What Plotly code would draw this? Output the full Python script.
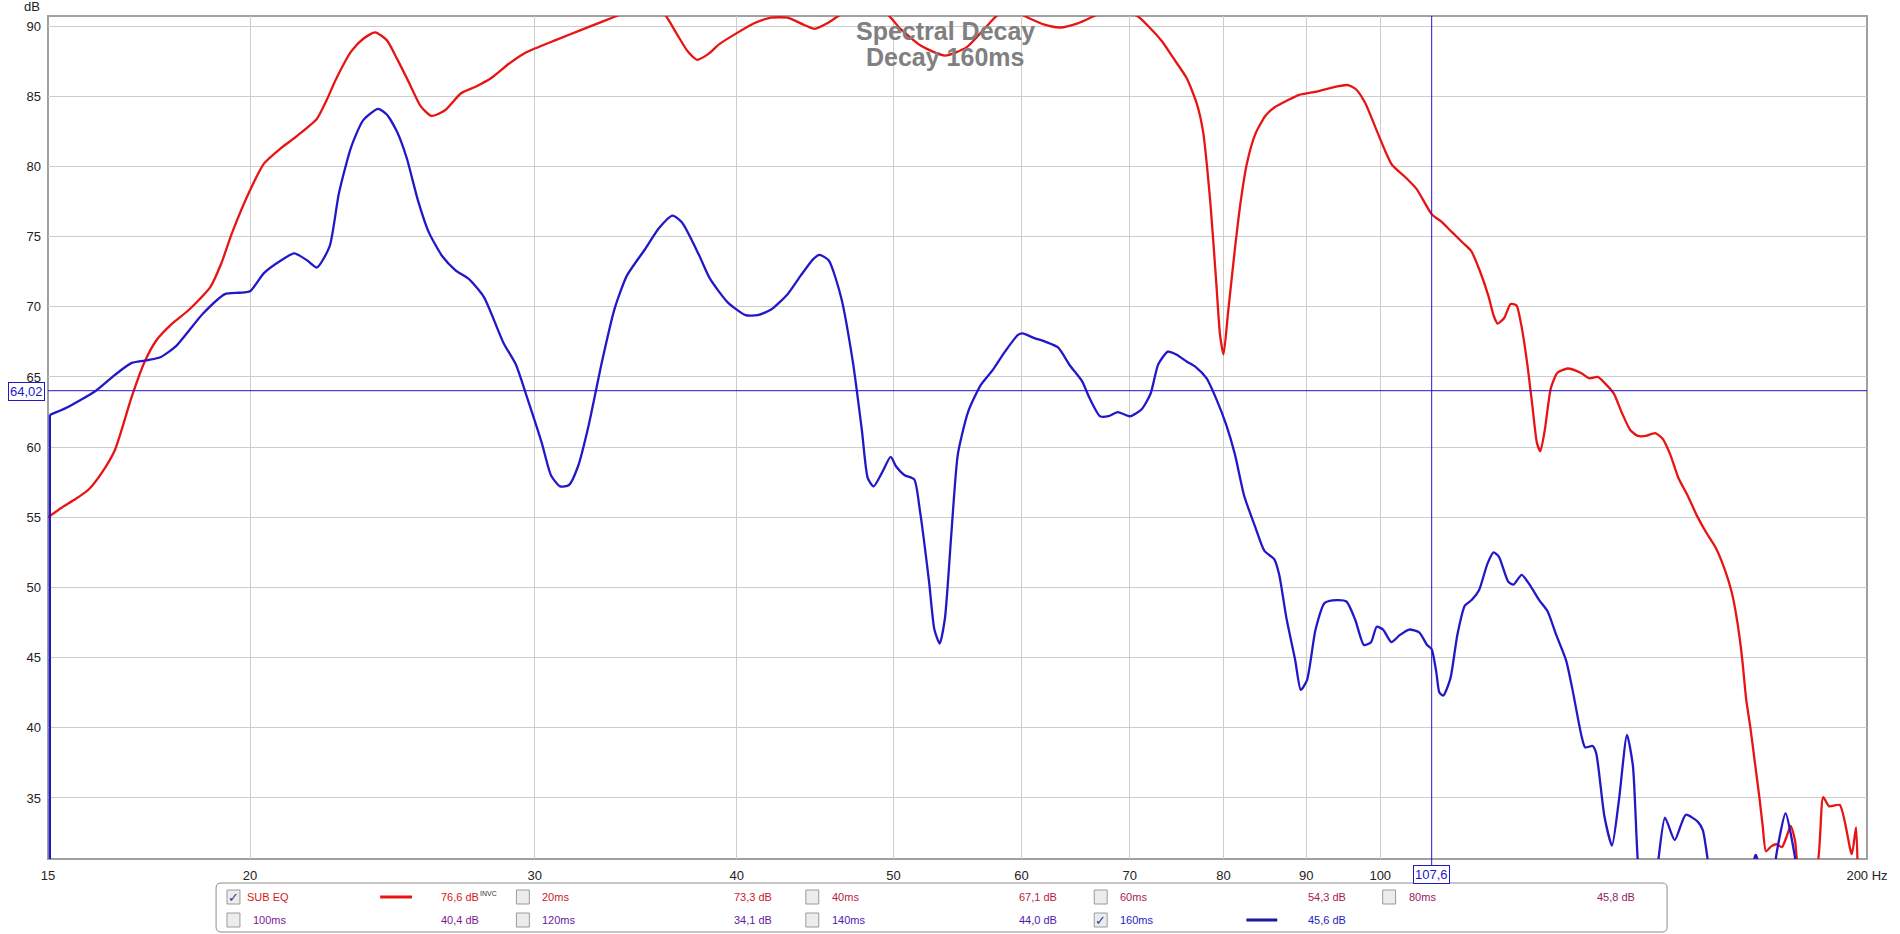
import math
import plotly.graph_objects as go

# ---------------- data ----------------
red_freq = [15.0, 15.3, 15.6, 15.9, 16.2, 16.5, 16.9, 17.2, 17.5, 17.9, 18.3, 18.6, 18.9, 19.2, 19.5,
            20.0, 20.4, 20.9, 21.4, 22.0, 22.3, 22.6, 23.1, 23.5, 23.9, 24.3, 24.65, 25.1, 25.5, 25.9,
            26.4, 27.0, 27.6, 28.2, 28.9, 29.5, 30.0, 30.9, 32.0, 33.0, 34.0, 35.0, 36.0, 36.7, 37.3,
            37.8, 38.4, 39.0, 40.0, 41.0, 42.0, 43.0, 44.0, 44.7, 45.5, 46.5, 48.0, 49.6, 50.5, 52.0,
            53.8, 55.5, 57.0, 58.0, 59.0, 60.3, 62.0, 63.4, 65.0, 66.5, 68.5, 70.8, 72.0, 73.3, 74.4,
            75.9, 77.0, 77.7, 78.5, 79.2, 79.6, 80.0, 80.5, 81.3, 82.0, 82.7, 83.7, 84.9, 86.0, 87.6,
            89.1, 91.0, 92.5, 94.1, 95.5, 96.6, 97.9, 99.3, 100.8, 101.7, 103.5, 105.3, 107.6, 109.0,
            110.8, 112.4, 113.8, 115.2, 116.7, 117.5, 118.2, 119.3, 120.4, 121.4, 122.2, 123.3, 124.2,
            125.0, 125.6, 126.4, 127.5, 128.7, 130.6, 133.0, 134.7, 136.3, 138.1, 139.5, 141.0, 142.8,
            144.3, 146.0, 147.9, 149.5, 151.1, 152.9, 155.0, 157.0, 159.1, 161.3, 163.3, 165.0, 166.3,
            167.4, 168.4, 169.4, 170.5, 171.6, 172.4, 173.2, 174.5, 175.8, 177.2, 178.3, 179.4, 180.5,
            181.8, 185.8, 187.9, 189.5, 192.4, 195.7, 196.9, 197.4]
red_db = [55.0, 55.7, 56.3, 57.0, 58.2, 59.8, 63.6, 66.0, 67.6, 68.8, 69.7, 70.5, 71.4, 73.1, 75.3,
          78.3, 80.2, 81.3, 82.2, 83.4, 84.7, 86.2, 88.2, 89.1, 89.55, 89.0, 87.7, 85.9, 84.3, 83.6,
          84.0, 85.2, 85.7, 86.3, 87.3, 88.0, 88.4, 89.0, 89.7, 90.3, 90.9, 91.5, 91.0, 89.5, 88.2,
          87.6, 88.0, 88.7, 89.5, 90.2, 90.6, 90.6, 90.1, 89.8, 90.2, 90.9, 91.6, 90.8, 89.8, 88.6,
          87.9, 88.5, 89.9, 90.8, 91.2, 90.7, 90.1, 89.9, 90.2, 90.7, 91.3, 90.7, 89.9, 88.9, 87.8,
          86.3, 84.5, 82.5, 77.5, 71.5, 68.0, 66.6, 69.5, 74.1, 77.6, 80.2, 82.3, 83.6, 84.2, 84.7,
          85.1, 85.3, 85.5, 85.7, 85.8, 85.5, 84.5, 82.8, 81.0, 80.1, 79.3, 78.4, 76.6, 76.1,
          75.3, 74.6, 74.0, 72.6, 70.7, 69.4, 68.8, 69.2, 70.2, 70.1, 68.8, 65.9, 62.9,
          60.3, 59.7, 61.2, 64.2, 65.3, 65.6, 65.3, 64.9, 65.0, 64.4, 63.8, 62.5, 61.2,
          60.8, 60.8, 61.0, 60.6, 59.5, 57.8, 56.5, 55.1, 53.9, 52.8, 51.3, 49.6, 47.5,
          45.0, 42.0, 40.0, 37.5, 35.0, 33.0, 31.2, 31.55, 31.7, 31.5, 32.2, 33.0, 32.0,
          29.5, 29.5, 35.05, 34.4, 34.5, 31.0, 32.9, 29.5]

blue_freq = [15.04, 15.04, 15.4, 16.05, 16.5, 16.9, 17.3, 17.6, 18.0, 18.7, 19.3, 19.7, 20.0, 20.4, 20.9,
             21.3, 21.7, 22.0, 22.4, 22.7, 23.1, 23.5, 24.0, 24.3, 24.65, 25.0, 25.4, 25.8, 26.3, 26.8,
             27.3, 27.9, 28.7, 29.2, 29.7, 30.3, 30.7, 31.1, 31.5, 31.9, 32.4, 33.0, 33.6, 34.2, 35.1,
             35.8, 36.5, 37.0, 37.9, 38.5, 39.5, 40.5, 41.2, 42.0, 43.0, 43.8, 44.6, 45.0, 45.6, 46.4,
             47.2, 47.8, 48.2, 48.6, 49.2, 49.8, 50.2, 50.8, 51.5, 51.9, 52.6, 53.0, 53.4, 53.8, 54.3,
             54.8, 55.6, 56.6, 57.6, 58.6, 59.7, 60.1, 61.0, 62.1, 63.2, 64.3, 65.4, 66.1, 67.1, 67.9,
             68.8, 70.0, 71.2, 72.1, 72.9, 73.9, 74.8, 75.9, 76.9, 78.1, 79.2, 80.3, 81.3, 82.4, 83.7,
             84.8, 86.0, 86.6, 87.5, 88.6, 89.3, 90.1, 91.2, 92.4, 94.0, 95.3, 96.5, 97.7, 98.7, 99.5,
             100.4, 101.6, 102.8, 104.2, 105.7, 106.9, 107.6, 108.3, 108.8, 109.4, 110.5, 111.6, 112.8,
             113.9, 115.1, 116.5, 117.5, 118.4, 120.0, 120.9, 122.3, 123.7, 125.4, 126.9, 128.5, 130.3,
             131.5, 133.2, 133.9, 135.3, 136.0, 137.6, 139.1, 140.5, 142.1, 143.3, 144.3, 144.8, 148.2,
             148.6, 150.0, 152.1, 154.5, 157.2, 158.3, 159.4, 159.8, 170.0, 170.3, 170.7, 171.1, 171.5,
             175.4, 175.6, 178.1, 180.6, 181.0]
blue_db = [29.5, 62.3, 62.8, 64.0, 65.15, 66.0, 66.2, 66.4, 67.2, 69.5, 70.9, 71.0, 71.1, 72.4, 73.3,
           73.8, 73.3, 72.8, 74.3, 78.1, 81.4, 83.3, 84.1, 83.7, 82.5, 80.6, 77.6, 75.3, 73.6, 72.6,
           72.0, 70.7, 67.4, 65.9, 63.4, 60.3, 58.0, 57.2, 57.3, 58.6, 61.6, 66.0, 69.8, 72.2, 74.1,
           75.6, 76.5, 76.0, 73.7, 72.0, 70.3, 69.4, 69.4, 69.8, 70.9, 72.2, 73.4, 73.7, 73.3, 70.7,
           66.0, 61.2, 57.8, 57.2, 58.2, 59.3, 58.6, 58.0, 57.7, 55.6, 50.4, 47.0, 46.0, 47.8, 53.9,
           59.5, 62.5, 64.4, 65.5, 66.8, 68.0, 68.1, 67.8, 67.5, 67.1, 65.8, 64.7, 63.5, 62.2, 62.2,
           62.5, 62.2, 62.7, 63.8, 65.9, 66.8, 66.6, 66.1, 65.7, 64.9, 63.4, 61.6, 59.5, 56.5, 54.3,
           52.6, 52.0, 50.9, 47.8, 44.8, 42.7, 43.4, 47.0, 48.9, 49.1, 49.0, 47.7, 45.9, 46.1, 47.2,
           47.0, 46.1, 46.6, 47.0, 46.8, 45.9, 45.6, 44.0, 42.5, 42.3, 43.5, 46.6, 48.7,
           49.1, 49.8, 51.7, 52.5, 52.2, 50.4, 50.2, 50.9, 50.2, 49.1, 48.3, 46.6, 44.8,
           42.7, 39.4, 38.6, 38.7, 38.2, 33.7, 31.6, 34.9, 39.5, 37.3, 30.6, 29.5, 29.5,
           30.6, 33.6, 32.0, 33.8, 33.3, 32.7, 30.6, 29.5, 29.5, 30.6, 30.95, 30.6, 29.5,
           29.5, 30.6, 33.9, 30.6, 29.5]

x_tick_vals = [15, 20, 30, 40, 50, 60, 70, 80, 90, 100, 200]
x_tick_text = ["15", "20", "30", "40", "50", "60", "70", "80", "90", "100", "200 Hz"]
y_tick_vals = [35, 40, 45, 50, 55, 60, 65, 70, 75, 80, 85, 90]

cursor_freq = 107.6
cursor_db = 64.02
cursor_freq_label = "107,6"
cursor_db_label = "64,02"

title_lines = ["Spectral Decay", "Decay 160ms"]

legend_names = ["SUB EQ", "20ms", "40ms", "60ms", "80ms", "100ms", "120ms", "140ms", "160ms"]
legend_values = ["76,6 dB", "73,3 dB", "67,1 dB", "54,3 dB", "45,8 dB",
                 "40,4 dB", "34,1 dB", "44,0 dB", "45,6 dB"]
legend_checked = [True, False, False, False, False, False, False, False, True]
legend_colors = ["#d41a1a", "#c81a2e", "#b81a40", "#a81a52", "#941a66",
                 "#7a1a90", "#661aa0", "#4a1ab0", "#2a1ac0"]

RED = "#e81414"
BLUE = "#2218c8"

# ---------------- layout geometry (pixels) ----------------
W, H = 1900, 934
L, R, T, B = 48, 1877, 16, 859
YMIN, YMAX = 30.65, 90.72


def px(x):
    return (x - L) / (R - L)


def py(y):
    return (B - y) / (B - T)


fig = go.Figure()

fig.add_trace(go.Scatter(x=red_freq, y=red_db, mode="lines",
                         line=dict(color=RED, width=2.3, shape="spline", smoothing=0.6),
                         hoverinfo="skip", showlegend=False))
# blue: straight start-up edge, then the smooth curve
fig.add_trace(go.Scatter(x=blue_freq[:2], y=blue_db[:2], mode="lines",
                         line=dict(color=BLUE, width=2.3),
                         hoverinfo="skip", showlegend=False))
fig.add_trace(go.Scatter(x=blue_freq[1:], y=blue_db[1:], mode="lines",
                         line=dict(color=BLUE, width=2.3, shape="spline", smoothing=0.6),
                         hoverinfo="skip", showlegend=False))
# cursor lines
fig.add_trace(go.Scatter(x=[15, 200], y=[cursor_db, cursor_db], mode="lines",
                         line=dict(color=BLUE, width=1), hoverinfo="skip", showlegend=False))
fig.add_trace(go.Scatter(x=[cursor_freq, cursor_freq], y=[YMIN - 1, YMAX + 1], mode="lines",
                         line=dict(color=BLUE, width=1), hoverinfo="skip", showlegend=False))

shapes = []
annotations = []

# title
annotations.append(dict(x=px(950), y=py(31), xref="paper", yref="paper", showarrow=False,
                        text="<b>" + title_lines[0] + "</b>", xanchor="center", yanchor="middle",
                        font=dict(family="Liberation Sans, Arial", size=25, color="#808080")))
annotations.append(dict(x=px(950), y=py(57), xref="paper", yref="paper", showarrow=False,
                        text="<b>" + title_lines[1] + "</b>", xanchor="center", yanchor="middle",
                        font=dict(family="Liberation Sans, Arial", size=25, color="#808080")))
# dB axis unit
annotations.append(dict(x=px(42), y=py(7), xref="paper", yref="paper", showarrow=False,
                        text="dB", xanchor="right", yanchor="middle",
                        font=dict(family="Liberation Sans, Arial", size=13, color="#222")))
# cursor label boxes
annotations.append(dict(x=px(26), y=py(391), xref="paper", yref="paper", showarrow=False,
                        text=cursor_db_label, xanchor="center", yanchor="middle",
                        bgcolor="white", bordercolor=BLUE, borderwidth=1, borderpad=1,
                        font=dict(family="Liberation Sans, Arial", size=13, color=BLUE)))
annotations.append(dict(x=math.log10(cursor_freq), y=py(B), xref="x", yref="paper",
                        showarrow=True, arrowhead=0, arrowwidth=1, arrowcolor=BLUE,
                        ax=0, ay=15, text=cursor_freq_label,
                        bgcolor="white", bordercolor=BLUE, borderwidth=1, borderpad=1,
                        font=dict(family="Liberation Sans, Arial", size=13, color=BLUE)))

# legend box (rounded)
lx0, lx1, ly0, ly1, rr = 217, 1676, 883, 932, 5
path = (f"M {px(lx0+rr)},{py(ly0)} L {px(lx1-rr)},{py(ly0)} Q {px(lx1)},{py(ly0)} {px(lx1)},{py(ly0+rr)} "
        f"L {px(lx1)},{py(ly1-rr)} Q {px(lx1)},{py(ly1)} {px(lx1-rr)},{py(ly1)} "
        f"L {px(lx0+rr)},{py(ly1)} Q {px(lx0)},{py(ly1)} {px(lx0)},{py(ly1-rr)} "
        f"L {px(lx0)},{py(ly0+rr)} Q {px(lx0)},{py(ly0)} {px(lx0+rr)},{py(ly0)} Z")
shapes.append(dict(type="path", path=path, xref="paper", yref="paper",
                   line=dict(color="#8c8c8c", width=1), fillcolor="white", layer="below"))

cb_x = [228, 519, 810, 1100, 1390]
val_left = [441, 736, 1022, 1313, 1604]
row_y = [897, 920]
LFONT = "Liberation Sans, Arial"
for i, name in enumerate(legend_names):
    row, col = divmod(i, 5)
    cx = cb_x[col]
    cy = row_y[row]
    shapes.append(dict(type="rect", xref="paper", yref="paper",
                       x0=px(cx), x1=px(cx + 13), y0=py(cy - 7), y1=py(cy + 7),
                       line=dict(color="#9a9a9a", width=1), fillcolor="#ececec"))
    if legend_checked[i]:
        annotations.append(dict(x=px(cx + 6.5), y=py(cy), xref="paper", yref="paper",
                                showarrow=False, text="✓", xanchor="center", yanchor="middle",
                                font=dict(family="DejaVu Sans", size=13, color="#2a3aa0")))
    off = 18 if i == 0 else 24
    annotations.append(dict(x=px(cx + off), y=py(cy), xref="paper", yref="paper",
                            showarrow=False, text=name, xanchor="left", yanchor="middle",
                            font=dict(family=LFONT, size=11, color=legend_colors[i])))
    annotations.append(dict(x=px(val_left[col]), y=py(cy), xref="paper", yref="paper",
                            showarrow=False, text=legend_values[i], xanchor="left", yanchor="middle",
                            font=dict(family=LFONT, size=11, color=legend_colors[i])))

# INVC superscript
annotations.append(dict(x=px(480), y=py(893), xref="paper", yref="paper", showarrow=False,
                        text="INVC", xanchor="left", yanchor="middle",
                        font=dict(family=LFONT, size=7, color="#333")))
# line samples
shapes.append(dict(type="line", xref="paper", yref="paper", x0=px(382), x1=px(414),
                   y0=py(897), y1=py(897), line=dict(color=RED, width=3)))
shapes.append(dict(type="line", xref="paper", yref="paper", x0=px(1253), x1=px(1284),
                   y0=py(920), y1=py(920), line=dict(color="#1a1a9a", width=3)))

# plot frame (below traces so the curves stay visible at the edges)
shapes.append(dict(type="rect", xref="paper", yref="paper", x0=0, x1=1, y0=0, y1=1,
                   line=dict(color="#a0a0a0", width=2), fillcolor="rgba(0,0,0,0)", layer="below"))

fig.update_layout(
    width=W, height=H, autosize=False,
    margin=dict(l=L, r=W - R, t=T, b=H - B, pad=0),
    paper_bgcolor="white", plot_bgcolor="white",
    showlegend=False,
    shapes=shapes, annotations=annotations,
    xaxis=dict(type="log", range=[math.log10(15), math.log10(200)],
               tickvals=x_tick_vals, ticktext=x_tick_text,
               showgrid=True, gridcolor="#cdcdcd", gridwidth=1,
               zeroline=False, showline=False, ticks="",
               ticklabelstandoff=7,
               tickfont=dict(family="Liberation Sans, Arial", size=13, color="#222")),
    yaxis=dict(range=[YMIN, YMAX], tickvals=y_tick_vals,
               showgrid=True, gridcolor="#cdcdcd", gridwidth=1,
               zeroline=False, showline=False, ticks="",
               ticklabelstandoff=6,
               tickfont=dict(family="Liberation Sans, Arial", size=13, color="#222")),
)

fig.write_html("out.html", config={"displayModeBar": False},
               post_script="document.body.style.margin='0px';document.body.style.overflow='hidden';")
